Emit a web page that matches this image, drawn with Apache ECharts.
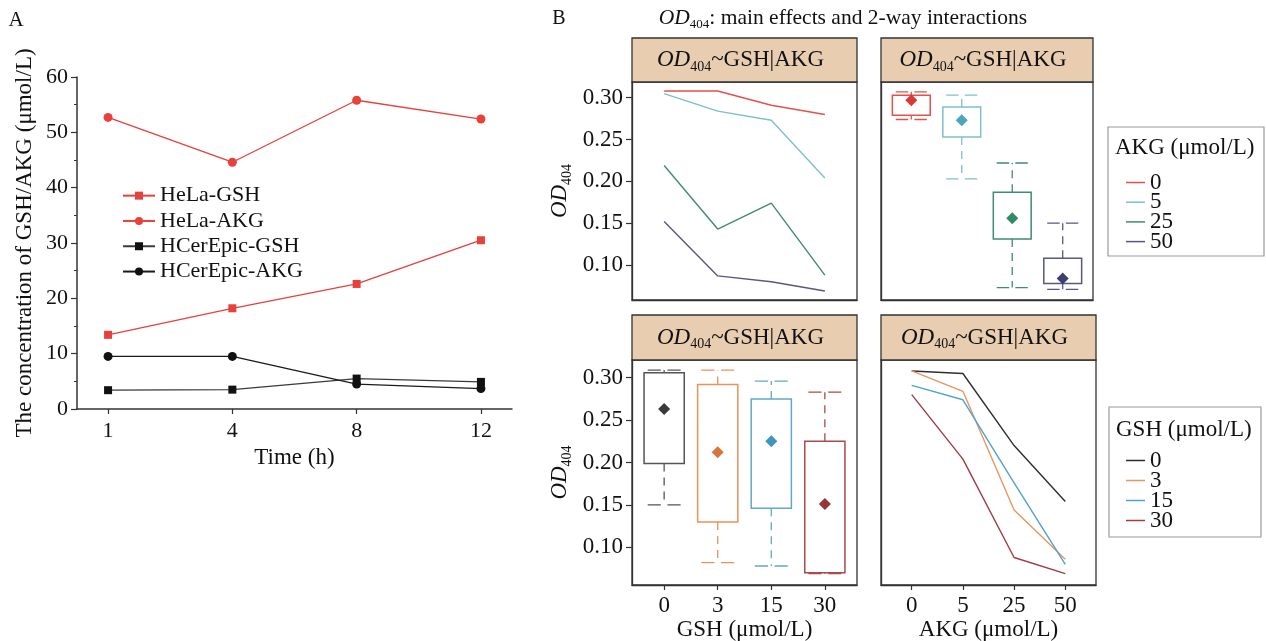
<!DOCTYPE html>
<html><head><meta charset="utf-8">
<script src="https://cdn.jsdelivr.net/npm/echarts@6/dist/echarts.min.js"></script>
<style>html,body{margin:0;padding:0;background:#fff}#c{width:1266px;height:641px}</style>
</head><body><div id="c"></div>
<script>
const FONT = '"Liberation Serif","Times New Roman",serif';

// ---------- Panel A data ----------
const timeLabels = ['1', '4', '8', '12'];
const helaGSH = [13.4, 18.2, 22.6, 30.5];
const helaAKG = [52.7, 44.6, 55.8, 52.4];
const hcerGSH = [3.4, 3.5, 5.5, 4.9];
const hcerAKG = [9.5, 9.5, 4.5, 3.7];

// ---------- Panel B data ----------
const gshLevels = ['0', '3', '15', '30'];
const akgLevels = ['0', '5', '25', '50'];
const odTicks = [0.10, 0.15, 0.20, 0.25, 0.30];
// OD404 for each AKG level across GSH 0,3,15,30
const odAKG0 = [0.308, 0.308, 0.291, 0.280];
const odAKG5 = [0.305, 0.284, 0.273, 0.204];
const odAKG25 = [0.219, 0.143, 0.174, 0.088];
const odAKG50 = [0.152, 0.087, 0.080, 0.069];
// OD404 for each GSH level across AKG 0,5,25,50
const odGSH0 = [0.308, 0.305, 0.220, 0.154];
const odGSH3 = [0.308, 0.284, 0.144, 0.086];
const odGSH15 = [0.291, 0.274, 0.176, 0.080];
const odGSH30 = [0.280, 0.204, 0.088, 0.069];
// box stats by AKG level
const akgMin = [0.274, 0.203, 0.073, 0.071];
const akgQ1 = [0.279, 0.253, 0.131, 0.078];
const akgQ3 = [0.303, 0.289, 0.187, 0.108];
const akgMax = [0.307, 0.303, 0.222, 0.150];
const akgMean = [0.297, 0.273, 0.156, 0.084];
// box stats by GSH level
const gshMin = [0.150, 0.082, 0.078, 0.069];
const gshQ1 = [0.199, 0.130, 0.146, 0.070];
const gshQ3 = [0.306, 0.292, 0.275, 0.225];
const gshMax = [0.309, 0.309, 0.296, 0.283];
const gshMean = [0.263, 0.212, 0.225, 0.151];

// colours
const akgLine = ['#e4504a', '#7cc0cc', '#3f8c72', '#58587e'];
const akgMeanCol = ['#d83a38', '#4fa3bc', '#2f8a68', '#3f3f72'];
const gshBoxCol = ['#555555', '#e8925c', '#62a8c8', '#aa4a4a'];
const gshMeanCol = ['#3a3a3a', '#d8743a', '#3f93c0', '#963636'];
const gshLine = ['#2e2e2e', '#e8965e', '#52a2d0', '#a03c46'];

const chart = echarts.init(document.getElementById('c'), null, { renderer: 'canvas' });

const idx = arr => arr.map((v, i) => [i, v]);
const boxRows = (mn, q1, q3, mx, mean) => mn.map((v, i) => [i, v, q1[i], q3[i], mx[i], mean[i]]);

function boxRenderer(lineCols, meanCols) {
  return function (params, api) {
    const i = params.dataIndex;
    const x = api.value(0);
    const pMin = api.coord([x, api.value(1)]);
    const pQ1 = api.coord([x, api.value(2)]);
    const pQ3 = api.coord([x, api.value(3)]);
    const pMax = api.coord([x, api.value(4)]);
    const pMean = api.coord([x, api.value(5)]);
    const cx = pQ1[0];
    const bw = api.size([1, 0])[0] * 0.75;
    const cw = bw * 0.82;
    const col = lineCols[i];
    const dashV = { stroke: col, lineWidth: 1.3, lineDash: [8, 6], fill: null };
    const capStyle = { stroke: col, lineWidth: 1.3, lineDash: [cw * 0.4, cw * 0.2], fill: null };
    const r = 6;
    return {
      type: 'group',
      children: [
        { type: 'line', shape: { x1: cx, y1: pQ3[1], x2: cx, y2: pMax[1] }, style: dashV },
        { type: 'line', shape: { x1: cx, y1: pQ1[1], x2: cx, y2: pMin[1] }, style: dashV },
        { type: 'line', shape: { x1: cx - cw / 2, y1: pMax[1], x2: cx + cw / 2, y2: pMax[1] }, style: capStyle },
        { type: 'line', shape: { x1: cx - cw / 2, y1: pMin[1], x2: cx + cw / 2, y2: pMin[1] }, style: capStyle },
        { type: 'rect', shape: { x: cx - bw / 2, y: pQ3[1], width: bw, height: pQ1[1] - pQ3[1] },
          style: { fill: 'none', stroke: col, lineWidth: 1.5 } },
        { type: 'polygon', shape: { points: [[cx, pMean[1] - r], [cx + r, pMean[1]], [cx, pMean[1] + r], [cx - r, pMean[1]]] },
          style: { fill: meanCols[i] } }
      ]
    };
  };
}

const odRich = {
  i: { fontFamily: FONT, fontSize: 23, fontStyle: 'italic', color: '#111', lineHeight: 28 },
  s: { fontFamily: FONT, fontSize: 14, color: '#111', lineHeight: 14, verticalAlign: 'bottom' },
  n: { fontFamily: FONT, fontSize: 23, color: '#111', lineHeight: 28 }
};

// B panel layouts
const gB = [
  { left: 632, top: 82, width: 225, height: 218 },
  { left: 881, top: 82, width: 212, height: 218 },
  { left: 632, top: 360, width: 225, height: 225 },
  { left: 881, top: 360, width: 215, height: 225 }
];
const yRangeTop = [0.0582, 0.3188];
const yRangeBot = [0.0556, 0.3209];

function bX(gi, labels) {
  return {
    type: 'value', gridIndex: gi, min: -0.6, max: 3.6,
    axisLine: { show: true, onZero: false, lineStyle: { color: '#333', width: 1.3 } }, splitLine: { show: false },
    axisTick: labels ? { show: true, inside: false, customValues: [0, 1, 2, 3], length: 5, lineStyle: { color: '#333', width: 1.2 } } : { show: false },
    axisLabel: labels ? { show: true, customValues: [0, 1, 2, 3], margin: 9, fontFamily: FONT, fontSize: 23, color: '#111',
      formatter: v => labels[Math.round(v)] } : { show: false },
    name: labels === gshLevels ? 'GSH (μmol/L)' : (labels === akgLevels ? 'AKG (μmol/L)' : ''),
    nameLocation: 'middle', nameGap: 33, nameMoveOverlap: false,
    nameTextStyle: { fontFamily: FONT, fontSize: 23, color: '#111' }
  };
}
function bY(gi, range, labels) {
  return {
    type: 'value', gridIndex: gi, min: range[0], max: range[1],
    axisLine: { show: true, onZero: false, lineStyle: { color: '#333', width: 1.3 } }, splitLine: { show: false },
    axisTick: labels ? { show: true, inside: false, customValues: odTicks, length: 6, lineStyle: { color: '#333', width: 1.2 } } : { show: false },
    axisLabel: labels ? { show: true, customValues: odTicks, margin: 9, fontFamily: FONT, fontSize: 23, color: '#111',
      formatter: v => v.toFixed(2) } : { show: false },
    name: labels ? '{i|OD}{s|404}' : '', nameLocation: 'middle', nameGap: 58, nameRotate: 90,
    nameTextStyle: { rich: odRich }
  };
}

const akgSeriesData = [odAKG0, odAKG5, odAKG25, odAKG50];
const gshSeriesData = [odGSH0, odGSH3, odGSH15, odGSH30];

const series = [
  { name: 'HeLa-GSH', type: 'line', xAxisIndex: 0, yAxisIndex: 0, data: idx(helaGSH), symbol: 'rect', symbolSize: 8,
    lineStyle: { color: '#e8403a', width: 1.3 }, itemStyle: { color: '#e8403a' } },
  { name: 'HeLa-AKG', type: 'line', xAxisIndex: 0, yAxisIndex: 0, data: idx(helaAKG), symbol: 'circle', symbolSize: 9,
    lineStyle: { color: '#e8403a', width: 1.3 }, itemStyle: { color: '#e8403a' } },
  { name: 'HCerEpic-GSH', type: 'line', xAxisIndex: 0, yAxisIndex: 0, data: idx(hcerGSH), symbol: 'rect', symbolSize: 8,
    lineStyle: { color: '#3a3a3a', width: 1.3 }, itemStyle: { color: '#111' } },
  { name: 'HCerEpic-AKG', type: 'line', xAxisIndex: 0, yAxisIndex: 0, data: idx(hcerAKG), symbol: 'circle', symbolSize: 9,
    lineStyle: { color: '#1a1a1a', width: 1.3 }, itemStyle: { color: '#111' } }
];
akgLevels.forEach((lv, k) => series.push({
  name: 'AKG ' + lv, type: 'line', xAxisIndex: 1, yAxisIndex: 1, data: idx(akgSeriesData[k]), symbol: 'none',
  lineStyle: { color: akgLine[k], width: 1.4 }, itemStyle: { color: akgLine[k] }
}));
series.push({
  type: 'custom', xAxisIndex: 2, yAxisIndex: 2, clip: false,
  data: boxRows(akgMin, akgQ1, akgQ3, akgMax, akgMean), encode: { x: 0, y: [1, 2, 3, 4, 5] },
  renderItem: boxRenderer(akgLine, akgMeanCol)
});
series.push({
  type: 'custom', xAxisIndex: 3, yAxisIndex: 3, clip: false,
  data: boxRows(gshMin, gshQ1, gshQ3, gshMax, gshMean), encode: { x: 0, y: [1, 2, 3, 4, 5] },
  renderItem: boxRenderer(gshBoxCol, gshMeanCol)
});
gshLevels.forEach((lv, k) => series.push({
  name: 'GSH ' + lv, type: 'line', xAxisIndex: 4, yAxisIndex: 4, data: idx(gshSeriesData[k]), symbol: 'none',
  lineStyle: { color: gshLine[k], width: 1.4 }, itemStyle: { color: gshLine[k] }
}));

// strips
const stripTops = [38, 38, 315, 315];
const stripH = [44, 44, 45, 45];
const graphics = [
  { type: 'text', x: 16, y: 20, style: { text: 'A', fontFamily: FONT, fontSize: 21, fill: '#111', align: 'center', verticalAlign: 'middle' } },
  { type: 'text', x: 559, y: 19, style: { text: 'B', fontFamily: FONT, fontSize: 20, fill: '#111', align: 'center', verticalAlign: 'middle' } },
  { type: 'text', x: 843, y: 18, style: { text: '{i|OD}{s|404}{n|: main effects and 2-way interactions}', align: 'center', verticalAlign: 'middle',
      rich: {
        i: { fontFamily: FONT, fontSize: 21.5, fontStyle: 'italic', fill: '#111', lineHeight: 26 },
        s: { fontFamily: FONT, fontSize: 13, fill: '#111', lineHeight: 13, verticalAlign: 'bottom' },
        n: { fontFamily: FONT, fontSize: 21.5, fill: '#111', lineHeight: 26 }
      } } },
  // legend boxes
  { type: 'rect', shape: { x: 1108, y: 127, width: 156, height: 129 }, style: { fill: '#fff', stroke: '#9a9a9a', lineWidth: 1.2 } },
  { type: 'text', x: 1115, y: 148, style: { text: 'AKG (μmol/L)', fontFamily: FONT, fontSize: 23, fill: '#111', align: 'left', verticalAlign: 'middle' } },
  { type: 'rect', shape: { x: 1109, y: 407, width: 152, height: 130 }, style: { fill: '#fff', stroke: '#9a9a9a', lineWidth: 1.2 } },
  { type: 'text', x: 1116, y: 430, style: { text: 'GSH (μmol/L)', fontFamily: FONT, fontSize: 23, fill: '#111', align: 'left', verticalAlign: 'middle' } }
];
gB.forEach((g, k) => {
  graphics.push({ type: 'rect', shape: { x: g.left, y: stripTops[k], width: g.width, height: stripH[k] },
    style: { fill: '#e8cdb0', stroke: '#333', lineWidth: 1.3 } });
  graphics.push({ type: 'text', x: g.left + g.width / 2 - 4, y: stripTops[k] + stripH[k] / 2, style: {
    text: '{i|OD}{s|404}{n|~GSH|AKG}', align: 'center', verticalAlign: 'middle',
    rich: {
      i: { fontFamily: FONT, fontSize: 23, fontStyle: 'italic', fill: '#111', lineHeight: 28 },
      s: { fontFamily: FONT, fontSize: 14, fill: '#111', lineHeight: 14, verticalAlign: 'bottom' },
      n: { fontFamily: FONT, fontSize: 23, fill: '#111', lineHeight: 28 }
    } } });
});

const frame = { show: true, borderColor: '#333', borderWidth: 1.3, outerBoundsMode: 'none', containLabel: false };
const option = {
  animation: false,
  backgroundColor: '#fff',
  textStyle: { fontFamily: FONT },
  grid: [
    { left: 77, top: 77, width: 435, height: 332, outerBoundsMode: 'none', containLabel: false },
    Object.assign({}, frame, gB[0]),
    Object.assign({}, frame, gB[1]),
    Object.assign({}, frame, gB[2]),
    Object.assign({}, frame, gB[3])
  ],
  xAxis: [
    {
      type: 'value', gridIndex: 0, min: -0.25, max: 3.25,
      axisLine: { show: true, onZero: false, lineStyle: { color: '#333', width: 1.5 } },
      splitLine: { show: false },
      axisTick: { show: true, customValues: [0, 1, 2, 3], length: 5, lineStyle: { color: '#333', width: 1.2 } },
      axisLabel: { show: true, customValues: [0, 1, 2, 3], margin: 11, fontFamily: FONT, fontSize: 22, color: '#111',
        formatter: v => timeLabels[Math.round(v)] },
      name: 'Time (h)', nameLocation: 'middle', nameGap: 37, nameTextStyle: { fontFamily: FONT, fontSize: 23, color: '#111' }
    },
    bX(1, null), bX(2, null), bX(3, gshLevels), bX(4, akgLevels)
  ],
  yAxis: [
    {
      type: 'value', gridIndex: 0, min: 0, max: 60, interval: 10,
      axisLine: { show: true, onZero: false, lineStyle: { color: '#333', width: 1.5 } },
      splitLine: { show: false },
      axisTick: { show: true, length: 6, lineStyle: { color: '#333', width: 1.2 } },
      minorTick: { show: true, splitNumber: 2, length: 3, lineStyle: { color: '#333', width: 1 } },
      axisLabel: { margin: 9, fontFamily: FONT, fontSize: 22, color: '#111' },
      name: 'The concentration of GSH/AKG (μmol/L)', nameLocation: 'middle', nameGap: 41,
      nameTextStyle: { fontFamily: FONT, fontSize: 23, color: '#111' }
    },
    bY(1, yRangeTop, true), bY(2, yRangeTop, false), bY(3, yRangeBot, true), bY(4, yRangeBot, false)
  ],
  legend: [
    {
      data: ['HeLa-GSH', 'HeLa-AKG', 'HCerEpic-GSH', 'HCerEpic-AKG'], orient: 'vertical', left: 117, top: 178,
      itemWidth: 32, itemHeight: 10, itemGap: 0, selectedMode: false,
      textStyle: { fontFamily: FONT, fontSize: 22, color: '#111', lineHeight: 25.3 }
    },
    {
      data: akgLevels.map(l => 'AKG ' + l), orient: 'vertical', left: 1126, top: 171, padding: 0,
      icon: 'rect', itemWidth: 19, itemHeight: 1.5, itemGap: -3.3, selectedMode: false,
      formatter: n => n.split(' ')[1],
      textStyle: { fontFamily: FONT, fontSize: 23, color: '#111', lineHeight: 22 }
    },
    {
      data: gshLevels.map(l => 'GSH ' + l), orient: 'vertical', left: 1126, top: 449, padding: 0,
      icon: 'rect', itemWidth: 19, itemHeight: 1.5, itemGap: -3, selectedMode: false,
      formatter: n => n.split(' ')[1],
      textStyle: { fontFamily: FONT, fontSize: 23, color: '#111', lineHeight: 22 }
    }
  ],
  graphic: graphics,
  series: series
};
chart.setOption(option);
</script></body></html>
